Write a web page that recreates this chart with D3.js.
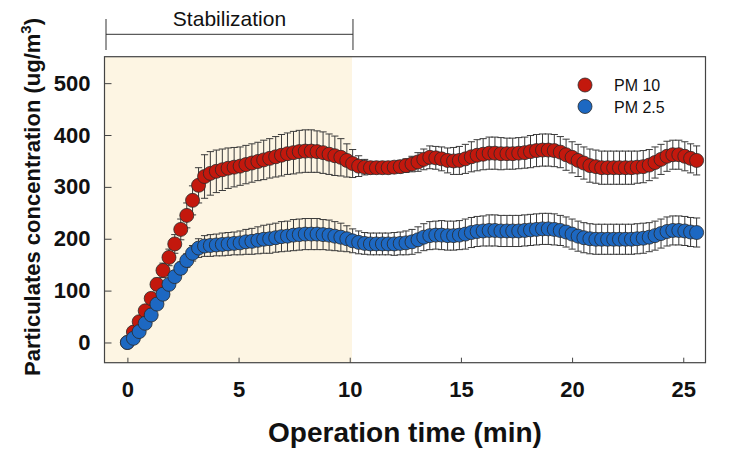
<!DOCTYPE html>
<html>
<head>
<meta charset="utf-8">
<script src="https://cdn.jsdelivr.net/npm/d3@7"></script>
<style>
  html, body { margin: 0; padding: 0; background: #fff; }
  svg { display: block; }
  text { font-family: "Liberation Sans", Arial, sans-serif; }
</style>
</head>
<body>
<svg id="chart" width="735" height="451"></svg>
<script>
// ---------- data ----------
const times = [
  0, 0.27, 0.53, 0.80, 1.07, 1.33, 1.60, 1.87, 2.13, 2.40,
  2.67, 2.93, 3.20, 3.47, 3.73, 4.00, 4.27, 4.53, 4.80, 5.07,
  5.33, 5.60, 5.87, 6.13, 6.40, 6.67, 6.93, 7.20, 7.47, 7.73,
  8.00, 8.27, 8.53, 8.80, 9.07, 9.33, 9.60, 9.87, 10.13, 10.40,
  10.67, 10.93, 11.20, 11.47, 11.73, 12.00, 12.27, 12.53, 12.80, 13.07,
  13.33, 13.60, 13.87, 14.13, 14.40, 14.67, 14.93, 15.20, 15.47, 15.73,
  16.00, 16.27, 16.53, 16.80, 17.07, 17.33, 17.60, 17.87, 18.13, 18.40,
  18.67, 18.93, 19.20, 19.47, 19.73, 20.00, 20.27, 20.53, 20.80, 21.07,
  21.33, 21.60, 21.87, 22.13, 22.40, 22.67, 22.93, 23.20, 23.47, 23.73,
  24.00, 24.27, 24.53, 24.80, 25.07, 25.33, 25.60
];
const pm10 = [
  0, 20, 40, 61, 85, 112, 139, 164, 190, 218,
  245, 274, 303, 320, 326, 330, 333, 336, 338, 340,
  343, 346, 349, 352, 355, 358, 361, 364, 366, 368,
  369, 369, 368, 366, 363, 360, 357, 351, 345, 340,
  338, 337, 337, 337, 337, 338, 339, 341, 344, 348,
  353, 357, 356, 354, 351, 350, 351, 354, 358, 361,
  363, 365, 365, 364, 364, 364, 365, 366, 368, 370,
  371, 371, 370, 367, 362, 357, 351, 346, 341, 339,
  337, 337, 337, 337, 337, 337, 338, 339, 342, 347,
  353, 359, 362, 362, 359, 355, 351
];
const pm10Err = [
  0, 4, 6, 8, 10, 12, 14, 16, 18, 20,
  24, 28, 34, 42, 42, 41, 40, 39, 38, 37,
  37, 37, 37, 38, 38, 39, 40, 40, 41, 41,
  41, 41, 40, 40, 39, 38, 36, 32, 27, 20,
  15, 12, 11, 11, 11, 11, 12, 13, 15, 18,
  20, 22, 22, 23, 24, 26, 27, 28, 29, 30,
  30, 31, 31, 31, 30, 30, 30, 30, 31, 31,
  31, 31, 31, 30, 30, 30, 31, 31, 32, 32,
  32, 32, 32, 32, 32, 32, 31, 31, 30, 30,
  29, 29, 28, 28, 28, 28, 28
];
const pm25 = [
  0, 8, 21, 37, 53, 74, 93, 112, 127, 143,
  158, 172, 182, 186, 187, 188, 189, 190, 191, 192,
  194, 195, 197, 199, 200, 202, 204, 205, 207, 208,
  209, 209, 209, 208, 207, 205, 203, 200, 196, 193,
  191, 190, 190, 190, 190, 190, 191, 192, 194, 198,
  203, 206, 207, 207, 206, 206, 207, 209, 212, 214,
  215, 216, 216, 215, 215, 215, 215, 216, 217, 218,
  219, 219, 218, 216, 213, 209, 205, 202, 200, 199,
  199, 199, 199, 199, 199, 199, 200, 201, 203, 206,
  210, 214, 216, 216, 215, 213, 212
];
const pm25Err = [
  0, 2, 3, 5, 6, 7, 8, 9, 10, 12,
  13, 15, 18, 20, 21, 21, 22, 22, 22, 23,
  24, 25, 26, 27, 28, 28, 29, 29, 30, 30,
  30, 30, 30, 29, 29, 28, 27, 25, 23, 22,
  21, 21, 21, 21, 21, 22, 22, 23, 24, 25,
  26, 27, 27, 28, 28, 28, 28, 29, 29, 29,
  29, 30, 30, 30, 30, 30, 30, 30, 30, 30,
  30, 30, 30, 29, 29, 29, 29, 29, 29, 29,
  29, 29, 29, 29, 29, 29, 29, 29, 28, 28,
  28, 28, 28, 28, 28, 28, 28
];
const seriesNames = ["PM 10", "PM 2.5"];
const seriesColors = ["#c3180d", "#1d68c2"];
const xTicks = [0, 5, 10, 15, 20, 25];
const yTicks = [0, 100, 200, 300, 400, 500];
const stabilizationEnd = 10.1;
const stabilizationLabel = "Stabilization";
const xTitle = "Operation time (min)";

// ---------- layout ----------
const svg = d3.select("#chart");
const plot = { left: 104.5, right: 705.5, top: 56.7, bottom: 362.7 };
const x = d3.scaleLinear().domain([-1.03, 26.0]).range([plot.left, plot.right]);
const y = d3.scaleLinear().domain([-39, 551]).range([plot.bottom, plot.top]);

// stabilization shading
svg.append("rect")
  .attr("x", x(-1.03)).attr("y", plot.top)
  .attr("width", x(stabilizationEnd) - x(-1.03))
  .attr("height", plot.bottom - plot.top)
  .attr("fill", "#fdf5e3");

// bracket
const br = svg.append("g").attr("stroke", "#333").attr("stroke-width", 1).attr("fill", "none");
const bx0 = x(-1.03) + 1.5, bx1 = x(stabilizationEnd) + 1;
br.append("line").attr("x1", bx0).attr("x2", bx0).attr("y1", 19).attr("y2", 50);
br.append("line").attr("x1", bx1).attr("x2", bx1).attr("y1", 19).attr("y2", 50);
br.append("line").attr("x1", bx0).attr("x2", bx1).attr("y1", 34.3).attr("y2", 34.3);
svg.append("text")
  .attr("x", (bx0 + bx1) / 2).attr("y", 26)
  .attr("text-anchor", "middle")
  .attr("font-size", 21).attr("fill", "#111")
  .text(stabilizationLabel);

// series
const series = [
  { name: seriesNames[0], color: seriesColors[0], v: pm10, e: pm10Err },
  { name: seriesNames[1], color: seriesColors[1], v: pm25, e: pm25Err }
];
const capW = 3.6;
series.forEach(s => {
  const pts = times.map((t, i) => ({ t, v: s.v[i], e: s.e[i] }));
  const g = svg.append("g");
  const eb = g.append("g").attr("stroke", "#3a3a3a").attr("stroke-width", 1);
  pts.forEach(p => {
    if (p.e <= 0) return;
    const cx = x(p.t), y1 = y(p.v + p.e), y2 = y(p.v - p.e);
    eb.append("line").attr("x1", cx).attr("x2", cx).attr("y1", y1).attr("y2", y2);
    eb.append("line").attr("x1", cx - capW).attr("x2", cx + capW).attr("y1", y1).attr("y2", y1);
    eb.append("line").attr("x1", cx - capW).attr("x2", cx + capW).attr("y1", y2).attr("y2", y2);
  });
  g.append("g").selectAll("circle").data(pts).join("circle")
    .attr("cx", d => x(d.t)).attr("cy", d => y(d.v)).attr("r", 7)
    .attr("fill", s.color).attr("stroke", "#2a2a2a").attr("stroke-width", 0.8);
});

// frame
svg.append("rect")
  .attr("x", plot.left).attr("y", plot.top)
  .attr("width", plot.right - plot.left).attr("height", plot.bottom - plot.top)
  .attr("fill", "none").attr("stroke", "#444").attr("stroke-width", 1.2);

// axes
const yAxis = d3.axisLeft(y).tickValues(yTicks).tickSizeInner(-7).tickSizeOuter(0).tickPadding(14);
const gy = svg.append("g").attr("transform", `translate(${plot.left},0)`).call(yAxis);
gy.select(".domain").remove();
gy.selectAll(".tick line").attr("stroke", "#444");
gy.selectAll("text").attr("font-size", 22).attr("font-weight", "bold").attr("fill", "#111")
  .attr("font-family", '"Liberation Sans", Arial, sans-serif');

const xAxis = d3.axisBottom(x).tickValues(xTicks).tickSizeInner(-5).tickSizeOuter(0).tickPadding(19);
const gx = svg.append("g").attr("transform", `translate(0,${plot.bottom})`).call(xAxis);
gx.select(".domain").remove();
gx.selectAll(".tick line").attr("stroke", "#444");
gx.selectAll("text").attr("font-size", 22).attr("font-weight", "bold").attr("fill", "#111")
  .attr("font-family", '"Liberation Sans", Arial, sans-serif');

// axis titles
svg.append("text")
  .attr("x", (plot.left + plot.right) / 2).attr("y", 442)
  .attr("text-anchor", "middle").attr("font-size", 28).attr("font-weight", "bold").attr("fill", "#111")
  .text(xTitle);

const yt = svg.append("text")
  .attr("transform", "translate(40,197) rotate(-90)")
  .attr("text-anchor", "middle").attr("font-size", 22).attr("font-weight", "bold").attr("fill", "#111");
yt.append("tspan").text("Particulates concentration (ug/m");
yt.append("tspan").attr("dy", -9).attr("font-size", 15).text("3");
yt.append("tspan").attr("dy", 9).text(")");

// legend
const legendY = [85, 106.5];
series.forEach((s, i) => {
  svg.append("circle").attr("cx", 585).attr("cy", legendY[i]).attr("r", 7)
    .attr("fill", s.color).attr("stroke", "#2a2a2a").attr("stroke-width", 0.8);
  svg.append("text").attr("x", 614).attr("y", legendY[i] + 6)
    .attr("font-size", 16).attr("fill", "#111").text(s.name);
});
</script>
</body>
</html>
